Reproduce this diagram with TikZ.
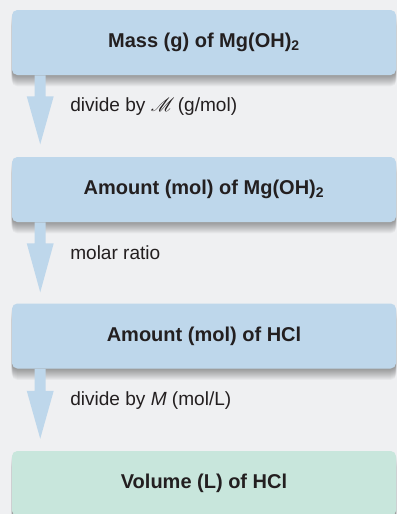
\documentclass[tikz,border=0pt]{standalone}
\usepackage{fontspec}
\setmainfont{Liberation Sans}
\usepackage{mathrsfs}
\usetikzlibrary{calc,backgrounds}
\definecolor{bgc}{RGB}{239,240,242}
\definecolor{boxblue}{RGB}{190,215,235}
\definecolor{boxgreen}{RGB}{200,230,220}
\definecolor{ink}{RGB}{35,31,32}
\tikzset{
  stepbox/.style={rectangle, rounded corners=4pt, inner sep=0pt,
    minimum width=288pt, minimum height=48.75pt, text=ink,
    font=\fontsize{15}{18}\selectfont\bfseries},
  steplabel/.style={anchor=west, inner sep=0pt, text=ink,
    font=\fontsize{14.3}{17}\selectfont},
  blockarrow/.style={fill=boxblue, draw=none}
}
\begin{document}
\begin{tikzpicture}[x=0.75pt,y=-0.75pt]
\useasboundingbox (0,0) rectangle (397,514);
\clip (0,0) rectangle (397,514);

\node[stepbox, fill=boxblue] (b1) at (204,42.5) {Mass (g) of Mg(OH)\textsubscript{2}};
\node[stepbox, fill=boxblue] (b2) at (204,189.5) {Amount (mol) of Mg(OH)\textsubscript{2}};
\node[stepbox, fill=boxblue] (b3) at (204,336) {Amount (mol) of HCl};
\node[stepbox, fill=boxgreen] (b4) at (204,483.5) {Volume (L) of HCl};

\begin{scope}[on background layer]
  \fill[bgc] (0,0) rectangle (397,514);
  \foreach \b in {b1,b2,b3,b4}{
    \foreach \i in {1,...,11}{
      \fill[black, opacity=0.034, rounded corners=4pt]
        ([yshift=-\i*0.75pt]\b.north west) rectangle ([yshift=-\i*0.75pt]\b.south east);
    }
  }
\end{scope}

% block arrows
\fill[blockarrow] ([xshift=23*0.75pt]b1.south west) -- ++(0,21) -- ++(-8,0)
   -- ++(13.5,48) -- ++(13.5,-48) -- ++(-8,0) -- ++(0,-21) -- cycle;
\fill[blockarrow] ([xshift=23*0.75pt]b2.south west) -- ++(0,21) -- ++(-8,0)
   -- ++(13.5,49) -- ++(13.5,-49) -- ++(-8,0) -- ++(0,-21) -- cycle;
\fill[blockarrow] ([xshift=23*0.75pt]b3.south west) -- ++(0,22) -- ++(-8,0)
   -- ++(13.5,48) -- ++(13.5,-48) -- ++(-8,0) -- ++(0,-22) -- cycle;

\node[steplabel] (l1) at (70,107) {divide by $\mathscr{M}$\,(g/mol)};
\node[steplabel] (l2) at (70,253) {molar ratio};
\node[steplabel] (l3) at (70,401) {divide by \textit{M} (mol/L)};
\end{tikzpicture}
\end{document}
